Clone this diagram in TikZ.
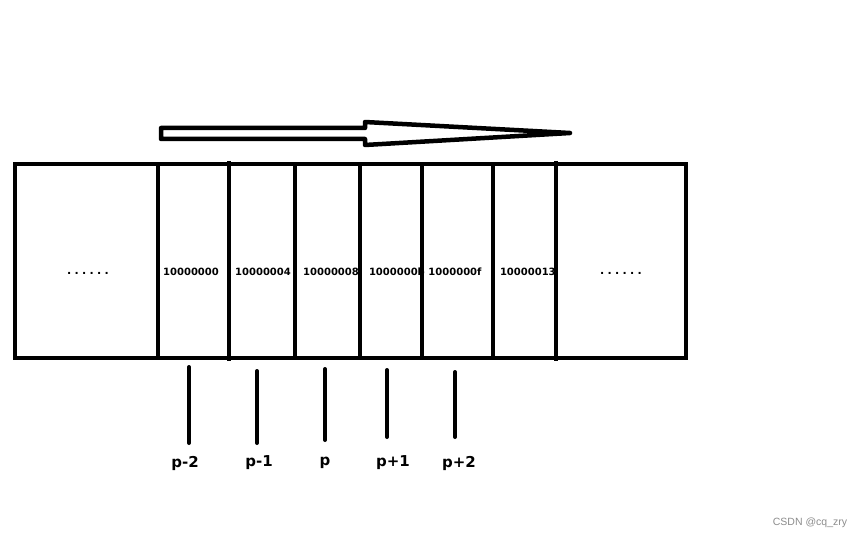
\documentclass[tikz,border=0pt]{standalone}
\usepackage{fontspec}
\newfontfamily\addrfont{DejaVu Sans}
\newfontfamily\markfont{Liberation Sans}
\usetikzlibrary{positioning}

\begin{document}
\begin{tikzpicture}[x=1pt,y=-1pt,line width=4pt,
		addr/.style={font=\addrfont\bfseries\fontsize{10}{12}\selectfont, inner sep=0pt},
		ptrlabel/.style={font=\addrfont\bfseries\fontsize{15}{18}\selectfont, inner sep=0pt},
		dots/.style={font=\addrfont\bfseries\fontsize{11}{12}\selectfont\addfontfeature{LetterSpace=30}, inner sep=0pt},
		ptr/.style={line cap=round}]
	\useasboundingbox (0,0) rectangle (864,540);
	% moving direction
	\draw[line width=4.5pt, line join=round] (161,128) -- (365,128) -- (365,122) -- (570,133) -- (365,145) -- (365,139) -- (161,139) -- cycle;
	% memory cells
	\node[dots] (left) at (88,273) {......};
	\node[dots] (right) at (621,273) {......};
	\node[addr] (a0) at (191,272) {10000000};
	\node[addr] (a4) at (263,272) {10000004};
	\node[addr] (a8) at (331,272) {10000008};
	\node[addr, anchor=west] (ab) at (367,272) {1000000b};
	\node[addr] (af) at (455,272) {1000000f};
	\node[addr, anchor=west] (a13) at (498,272) {10000013};
	\draw (15,164) rectangle (686,358);
	\foreach \x in {158,295,360,422,493}
		\draw (\x,164) -- (\x,358);
	\foreach \x in {229,556}
		\draw (\x,161) -- (\x,361);
	% pointers
	\node[ptrlabel] (pm2) at (185,463) {p-2};
	\node[ptrlabel] (pm1) at (259,463) {p-1};
	\node[ptrlabel] (p) at (325,463) {p};
	\node[ptrlabel] (pp1) at (393,463) {p+1};
	\node[ptrlabel] (pp2) at (459,463) {p+2};
	\coordinate (tm2) at (189,367);
	\coordinate (tm1) at (257,371);
	\coordinate (t0) at (325,369);
	\coordinate (tp1) at (387,370);
	\coordinate (tp2) at (455,372);
	\draw[ptr] (tm2) -- ++(0,76);
	\draw[ptr] (tm1) -- ++(0,72);
	\draw[ptr] (t0) -- ++(0,71);
	\draw[ptr] (tp1) -- ++(0,67);
	\draw[ptr] (tp2) -- ++(0,65);
	\node[font=\markfont\fontsize{10.5}{12}\selectfont, text=black!45, inner sep=0pt] (mark) at (810,523) {CSDN @cq\_zry};
\end{tikzpicture}
\end{document}
